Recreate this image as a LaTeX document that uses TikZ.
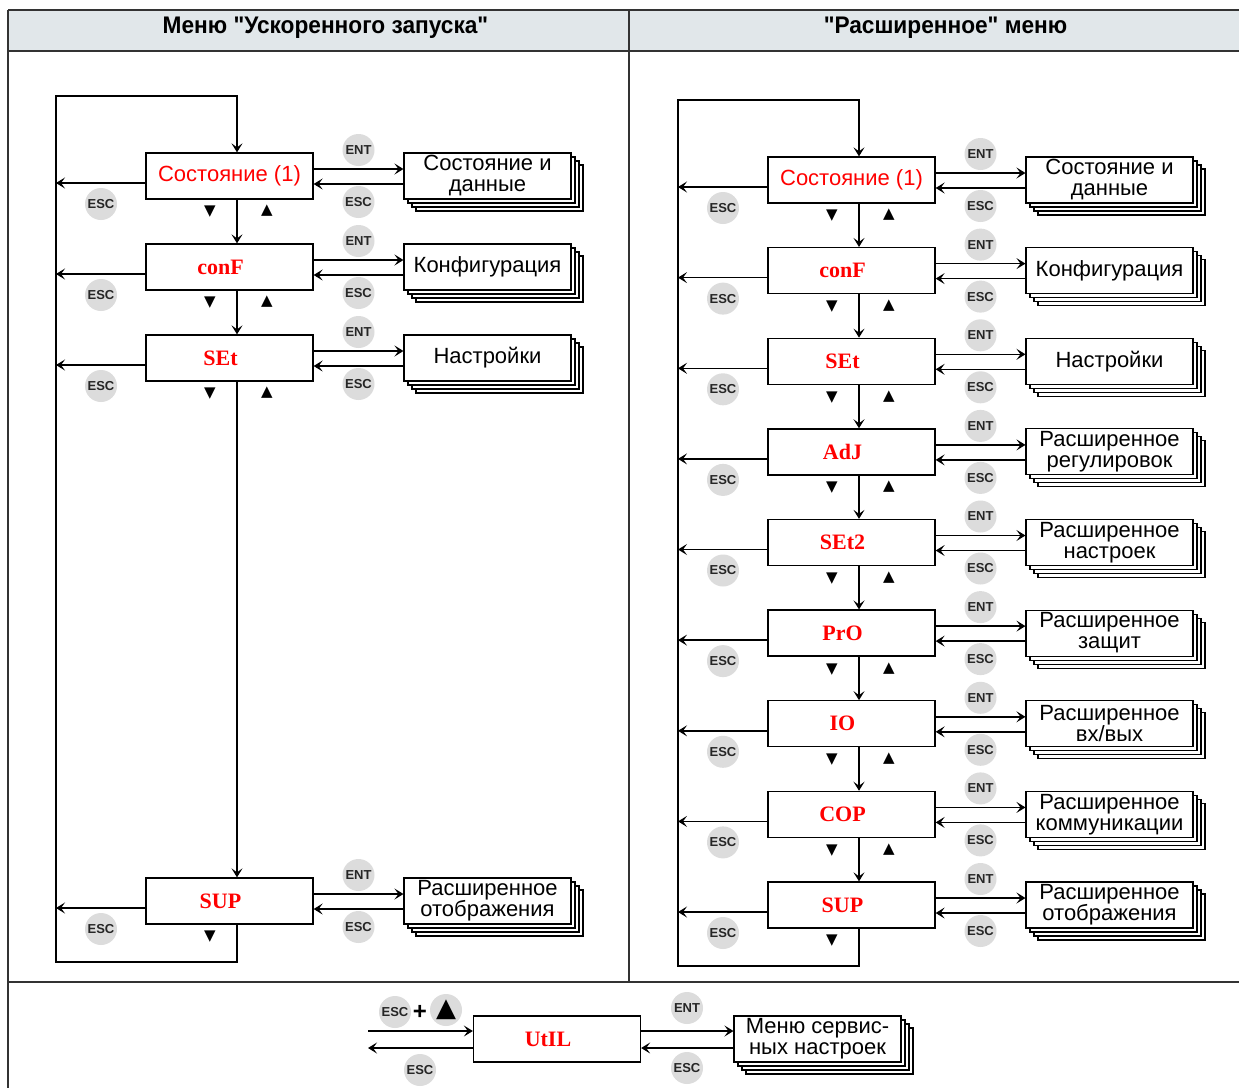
\documentclass[tikz,border=0pt]{standalone}
\usepackage{fontspec}
\setmainfont{Liberation Sans}
\newfontfamily\serifb{Liberation Serif}
\newfontfamily\dejavu{DejaVu Sans}
\newfontfamily\hdrfont{Liberation Sans}[Ligatures=TeXOff]
\usetikzlibrary{arrows.meta}
\definecolor{hdrfill}{HTML}{E1E7EA}
\definecolor{btngray}{HTML}{DCDCDC}
\newcommand\rs[1]{\textcolor{red}{\fontsize{22}{22}\selectfont #1}}
\newcommand\rb[1]{\textcolor{red}{\serifb\bfseries\fontsize{22}{22}\selectfont #1\kern18pt}}
\tikzset{
 mbox/.style={draw, line width=1.3pt, fill=white, minimum width=167pt, minimum height=46pt, inner sep=0pt},
 pg/.style={draw, line width=1.1pt, fill=white, minimum width=167pt, minimum height=46pt, inner sep=0pt},
 pgtext/.style={align=center, font=\fontsize{22}{21}\selectfont},
 btn/.style={circle, fill=btngray, minimum size=32pt, inner sep=0pt, font=\bfseries\fontsize{13}{13}\selectfont, text=black!85},
 tri/.style={font=\dejavu\fontsize{15}{15}\selectfont, inner sep=0pt},
 arr/.style={line width=1.4pt, -{Stealth[length=9pt,width=11pt,inset=4pt]}},
 frame/.style={line width=1.2pt, draw=black!80},
 hdr/.style={font=\hdrfont\bfseries\fontsize{24}{24}\selectfont},
}
% #1 name #2 box cx #3 cy #4 label #5 page cx #6 page text #7 loop x #8 both triangles (1/0)
\newcommand\mrow[8]{%
 \foreach \k in {3,2,1}{\node[pg] at ({#5+4*\k},{#3+4*\k}) {};}
 \node[pg,pgtext] (#1p) at (#5,#3) {#6};
 \node[mbox] (#1) at (#2,#3) {#4};
 \node[btn] (#1ent) at ({(#2+#5)/2},{#3-26}) {ENT};
 \node[btn] (#1escr) at ({(#2+#5)/2},{#3+26}) {ESC};
 \node[btn] (#1escl) at ({(#2-83.5+#7)/2},{#3+28}) {ESC};
 \node[tri] (#1dn) at ({#2-19.5},{#3+36}) {▼};
 \ifnum#8=1 \node[tri] (#1up) at ({#2+37.5},{#3+35}) {▲};\fi
 \coordinate (#1l) at (#7,{#3+7});
 \draw[arr] ([yshift=7pt]#1.east) -- ([yshift=7pt]#1p.west);
 \draw[arr] ([yshift=-8pt]#1p.west) -- ([yshift=-8pt]#1.east);
 \draw[arr] ([yshift=-7pt]#1.west) -- (#1l);
}
\begin{document}
\begin{tikzpicture}[x=1pt,y=-1pt]
\useasboundingbox (0,0) rectangle (1239,1088);
\fill[white] (0,0) rectangle (1239,1088);
% table
\fill[hdrfill] (8,10) rectangle (1239,51);
\node[hdr] (h1) at (325.5,28) {\scalebox{0.945}[1]{Меню "Ускоренного запуска"}};
\node[hdr] (h2) at (945.5,28) {\scalebox{0.945}[1]{"Расширенное" меню}};
\draw[frame] (8,10) -- (1239,10);
\draw[frame] (8,51) -- (1239,51);
\draw[frame] (8,10) -- (8,1088);
\draw[frame] (629,10) -- (629,982);
\draw[frame] (8,982) -- (1239,982);
% left panel
\mrow{a1}{229.5}{176}{\rs{Состояние (1)}}{487.5}{\fontsize{22}{23}\selectfont Состояние и\\данные}{56}{1}
\mrow{a2}{229.5}{267}{\rb{conF}}{487.5}{Конфигурация}{56}{1}
\mrow{a3}{229.5}{358}{\rb{SEt}}{487.5}{Настройки}{56}{1}
\mrow{a4}{229.5}{901}{\rb{SUP}}{487.5}{Расширенное\\отображения}{56}{0}
\coordinate (aLT) at (56,96);
\coordinate (aLB) at (56,962);
\draw[arr] ([xshift=7.5pt]a1.south) -- ([xshift=7.5pt]a2.north);
\draw[arr] ([xshift=7.5pt]a2.south) -- ([xshift=7.5pt]a3.north);
\draw[arr] ([xshift=7.5pt]a3.south) -- ([xshift=7.5pt]a4.north);
\draw[arr] ([xshift=7.5pt]a4.south) |- (aLB) -- (aLT) -| ([xshift=7.5pt]a1.north);
% right panel
\mrow{b1}{851.5}{180}{\rs{Состояние (1)}}{1109.5}{\fontsize{22}{23}\selectfont Состояние и\\данные}{678}{1}
\mrow{b2}{851.5}{270.6}{\rb{conF}}{1109.5}{Конфигурация}{678}{1}
\mrow{b3}{851.5}{361.3}{\rb{SEt}}{1109.5}{Настройки}{678}{1}
\mrow{b4}{851.5}{451.9}{\rb{AdJ}}{1109.5}{Расширенное\\регулировок}{678}{1}
\mrow{b5}{851.5}{542.5}{\rb{SEt2}}{1109.5}{Расширенное\\настроек}{678}{1}
\mrow{b6}{851.5}{633.1}{\rb{PrO}}{1109.5}{Расширенное\\защит}{678}{1}
\mrow{b7}{851.5}{723.8}{\rb{IO}}{1109.5}{Расширенное\\вх/вых}{678}{1}
\mrow{b8}{851.5}{814.4}{\rb{COP}}{1109.5}{Расширенное\\коммуникации}{678}{1}
\mrow{b9}{851.5}{905}{\rb{SUP}}{1109.5}{Расширенное\\отображения}{678}{0}
\coordinate (bLT) at (678,100);
\coordinate (bLB) at (678,966);
\foreach \i/\j in {b1/b2,b2/b3,b3/b4,b4/b5,b5/b6,b6/b7,b7/b8,b8/b9}
  \draw[arr] ([xshift=7.5pt]\i.south) -- ([xshift=7.5pt]\j.north);
\draw[arr] ([xshift=7.5pt]b9.south) |- (bLB) -- (bLT) -| ([xshift=7.5pt]b1.north);
% bottom UtIL
\foreach \k in {3,2,1}{\node[pg] at ({817.5+4*\k},{1039+4*\k}) {};}
\node[pg,pgtext] (up) at (817.5,1039) {Меню сервис-\\ных настроек};
\node[mbox] (ut) at (557,1039) {\rb{UtIL}};
\coordinate (uin) at (368,1031);
\coordinate (uout) at (368,1048);
\draw[arr] (uin) -- ([yshift=8pt]ut.west);
\draw[arr] ([yshift=-9pt]ut.west) -- (uout);
\draw[arr] ([yshift=8pt]ut.east) -- ([yshift=8pt]up.west);
\draw[arr] ([yshift=-9pt]up.west) -- ([yshift=-9pt]ut.east);
\node[btn] (ue1) at (395,1012) {ESC};
\node[font=\bfseries\fontsize{24}{24}\selectfont, inner sep=0pt] (uplus) at (420,1012) {+};
\node[btn] (uup) at (446,1010) {};
\node[font=\dejavu\fontsize{26}{26}\selectfont, inner sep=0pt] (uuptri) at (446,1010) {▲};
\node[btn] (ue2) at (420,1070) {ESC};
\node[btn] (uent) at (687,1008) {ENT};
\node[btn] (ue3) at (687,1068) {ESC};
\end{tikzpicture}
\end{document}
